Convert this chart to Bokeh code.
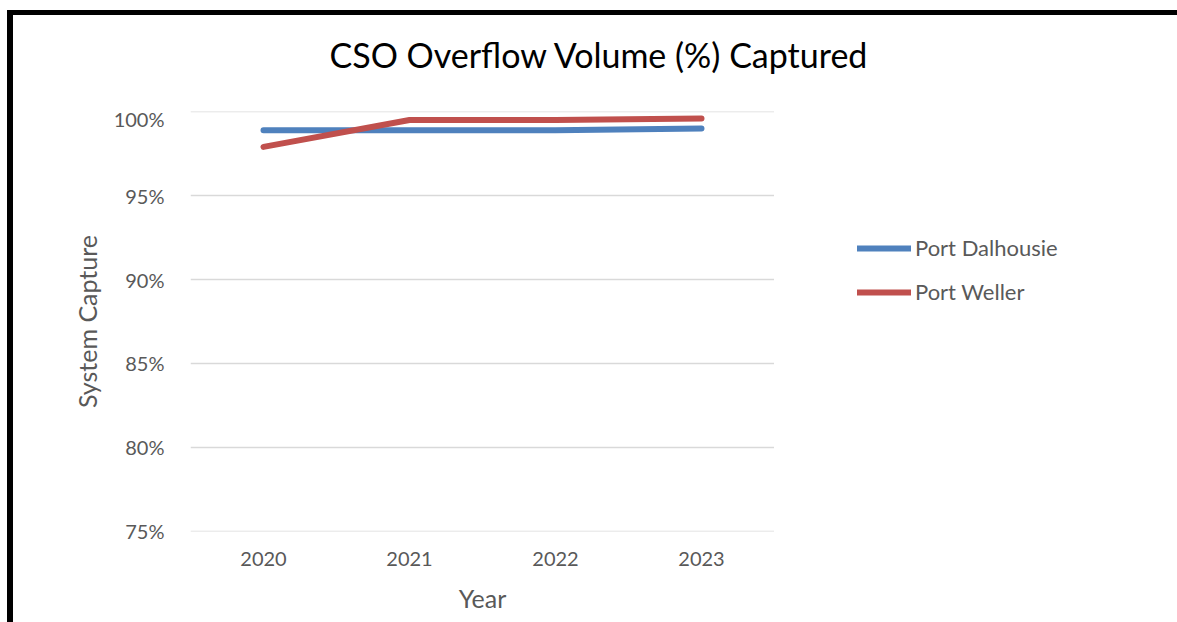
from bokeh.plotting import figure
from bokeh.layouts import row, column
from bokeh.models import Range1d, FixedTicker, PrintfTickFormatter, Legend, LegendItem
from bokeh.embed import file_html
from bokeh.resources import INLINE

years = ["2020", "2021", "2022", "2023"]
port_dalhousie = [98.9, 98.9, 98.9, 99.0]
port_weller = [97.9, 99.5, 99.5, 99.6]
y_ticks = [75, 80, 85, 90, 95, 100]
series_names = ["Port Dalhousie", "Port Weller"]
series_values = [port_dalhousie, port_weller]
series_colors = ["#4f81bd", "#c0504d"]
chart_title = "CSO Overflow Volume (%) Captured"

FONT = "Lato"
GREY = "#595959"


def blank(fig):
    fig.border_fill_color = None
    fig.background_fill_color = None
    fig.outline_line_color = None
    fig.grid.visible = False


# title strip (top of the chart box)
t = figure(width=1177, height=106, x_range=Range1d(0, 1), y_range=Range1d(0, 1),
           output_backend="svg", toolbar_location=None,
           x_axis_location=None, y_axis_location=None,
           min_border_left=190, min_border_right=403, min_border_top=0, min_border_bottom=0,
           title=chart_title)
blank(t)
t.styles = {"box-shadow": "inset 7px 10px 0 0 white, inset 13px 15px 0 0 black"}
t.title.align = "left"
t.title.offset = 139
t.title.text_font = FONT
t.title.text_font_size = "34px"
t.title.text_font_style = "normal"
t.title.text_color = "black"
t.title.standoff = 62

# main chart
p = figure(width=774, height=516, x_range=years, y_range=Range1d(74.99, 100.01),
           output_backend="svg", toolbar_location=None,
           min_border_left=190, min_border_right=0, min_border_top=5, min_border_bottom=91)
p.border_fill_color = None
p.background_fill_color = None
p.outline_line_color = None
p.styles = {"box-shadow": "inset 7px 0 0 0 white, inset 13px 0 0 0 black"}

for vals, color in zip(series_values, series_colors):
    p.line(years, vals, line_color=color, line_width=6, line_cap="round", line_join="round")

p.yaxis.ticker = FixedTicker(ticks=y_ticks)
p.yaxis.formatter = PrintfTickFormatter(format="%d%%")
for ax in (p.xaxis[0], p.yaxis[0]):
    ax.axis_line_color = None
    ax.major_tick_line_color = None
    ax.minor_tick_line_color = None
    ax.major_label_text_font = FONT
    ax.major_label_text_font_size = "20px"
    ax.major_label_text_color = GREY
    ax.axis_label_text_font = FONT
    ax.axis_label_text_font_size = "25px"
    ax.axis_label_text_font_style = "normal"
    ax.axis_label_text_color = GREY

p.yaxis.axis_label = "System Capture"
p.xaxis.axis_label = "Year"
p.yaxis.major_label_standoff = 20
p.xaxis.major_label_standoff = 14
p.yaxis.axis_label_standoff = 9
p.xaxis.axis_label_standoff = 14

p.xgrid.grid_line_color = None
p.ygrid.grid_line_color = "#d9d9d9"
p.ygrid.grid_line_width = 1.5
p.ygrid.ticker = FixedTicker(ticks=y_ticks)

# legend area (right part of the chart box)
q = figure(width=403, height=516, x_range=years, y_range=Range1d(0, 1),
           output_backend="svg", toolbar_location=None,
           x_axis_location=None, y_axis_location=None,
           min_border_left=0, min_border_right=0, min_border_top=5, min_border_bottom=91)
blank(q)

items = []
for name, vals, color in zip(series_names, series_values, series_colors):
    rr = q.line(years, vals, line_color=color, line_width=6, line_cap="round")
    items.append(LegendItem(label=name, renderers=[rr]))

legend = Legend(items=items, location=(83, 226), glyph_width=54, glyph_height=20, label_height=20,
                spacing=17, padding=0, margin=0, label_standoff=4,
                label_text_font=FONT, label_text_font_size="22px", label_text_color=GREY,
                border_line_color=None, background_fill_alpha=0)
q.add_layout(legend)

layout = column(t, row(p, q))
open("out.html", "w").write(file_html(layout, INLINE))
